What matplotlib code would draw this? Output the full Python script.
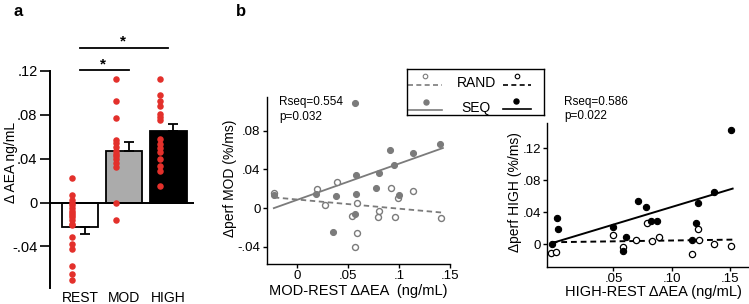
import numpy as np
import matplotlib
matplotlib.use('Agg')
import matplotlib.pyplot as plt

plt.rcParams['font.family'] = ['Liberation Sans', 'DejaVu Sans']

W, H = 749, 304

# ---------------- Panel a data ----------------
groups = ['REST', 'MOD', 'HIGH']
bar_means = [-0.022, 0.047, 0.065]
bar_sems = [0.0065, 0.0080, 0.0068]
bar_colors = ['white', '#ababab', 'black']
rest_vals = [0.022, 0.0073, 0.0025, -0.0003, -0.0027, -0.0052, -0.0073, -0.0097,
             -0.0118, -0.0135, -0.016, -0.0194, -0.0209, -0.0315, -0.0376, -0.042,
             -0.058, -0.065, -0.0703]
mod_vals = [0.113, 0.093, 0.077, 0.057, 0.054, 0.051, 0.047, 0.044, 0.042, 0.040,
            0.036, 0.032, 0.0, -0.016]
high_vals = [0.113, 0.098, 0.093, 0.088, 0.081, 0.078, 0.075, 0.058, 0.053, 0.050,
             0.046, 0.040, 0.033, 0.029, 0.0155]

# ---------------- Panel b (MOD) data ----------------
mod_seq_x = [-0.023, 0.018, 0.038, 0.058, 0.058, 0.035, 0.057, 0.080, 0.077, 0.091,
             0.095, 0.100, 0.114, 0.140, 0.057]
mod_seq_y = [0.0134, 0.014, 0.012, 0.034, 0.015, -0.0245, -0.006, 0.036, 0.021, 0.060,
             0.045, 0.013, 0.057, 0.0665, 0.109]
mod_rand_x = [-0.023, 0.019, 0.039, 0.027, 0.059, 0.054, 0.059, 0.057, 0.080, 0.079,
              0.092, 0.096, 0.099, 0.114, 0.141]
mod_rand_y = [0.016, 0.020, 0.027, 0.0035, 0.005, -0.008, -0.026, -0.040, -0.003, -0.009,
              0.021, -0.009, 0.010, 0.018, -0.010]
mod_seq_fit = [0.375, 0.0085]    # slope, intercept
mod_rand_fit = [-0.095, 0.0088]

# ---------------- Panel b (HIGH) data ----------------
high_seq_x = [-0.003, 0.002, 0.0023, 0.050, 0.0606, 0.0586, 0.0706, 0.078, 0.082, 0.0877,
              0.117, 0.122, 0.121, 0.136, 0.151]
high_seq_y = [0.0, 0.0325, 0.019, 0.0217, 0.0088, -0.008, 0.0546, 0.046, 0.029, 0.029,
              0.0054, 0.051, 0.027, 0.065, 0.143]
high_rand_x = [-0.0034, 0.0006, 0.050, 0.0586, 0.069, 0.079, 0.083, 0.0886, 0.117, 0.122,
               0.123, 0.136, 0.151]
high_rand_y = [-0.0104, -0.010, 0.0117, -0.0037, 0.0058, 0.027, 0.004, 0.009, -0.0117, 0.019,
               0.0054, 0.0008, -0.0017]
high_seq_fit = [0.44, 0.0026]
high_rand_fit = [0.021, 0.0026]

GRAY = '#7b7b7b'
RED = '#e3302b'

fig = plt.figure(figsize=(W / 100, H / 100), dpi=100)


def px_axes(l, t, r, b):
    return fig.add_axes([l / W, 1 - b / H, (r - l) / W, (b - t) / H])


def fx(x):
    return x / W


def fy(y):
    return 1 - y / H


# ================= Panel a =================
axa = px_axes(50, 71, 194, 288)
axa.set_xlim(-0.69, 2.58)
axa.set_ylim(-0.078, 0.12)
xpos = np.arange(len(groups))
axa.bar(xpos, bar_means, width=0.82, color=bar_colors, edgecolor='black', linewidth=1.3, zorder=2)
lower = [s if m < 0 else 0 for m, s in zip(bar_means, bar_sems)]
upper = [s if m > 0 else 0 for m, s in zip(bar_means, bar_sems)]
axa.errorbar(xpos + 0.1, bar_means, yerr=[lower, upper], fmt='none', ecolor='black',
             elinewidth=1.3, capsize=3.5, capthick=1.3, zorder=2)
for i, vals in enumerate([rest_vals, mod_vals, high_vals]):
    axa.scatter(np.full(len(vals), i - 0.2), vals, s=22, color=RED, zorder=4, linewidths=0)
axa.axhline(0, color='black', lw=1.4, zorder=3)
for s in ['top', 'right', 'bottom']:
    axa.spines[s].set_visible(False)
axa.spines['left'].set_linewidth(1.4)
axa.set_yticks([-0.04, 0, 0.04, 0.08, 0.12])
axa.set_yticklabels(['-.04', '0', '.04', '.08', '.12'], fontsize=10.5)
axa.tick_params(axis='y', length=7, width=1.2, pad=2)
axa.set_xticks(xpos)
axa.set_xticklabels(groups, fontsize=10)
axa.tick_params(axis='x', length=0, pad=2)
# significance
axa.plot([0, 2], [0.141, 0.141], color='black', lw=1.3, clip_on=False)
axa.plot([0, 1.1], [0.1205, 0.1205], color='black', lw=1.3, clip_on=False)
axa.text(0.97, 0.1405, '*', ha='center', va='bottom', fontsize=11, fontweight='bold')
axa.text(0.51, 0.1195, '*', ha='center', va='bottom', fontsize=11, fontweight='bold')
fig.text(fx(11), fy(162), 'Δ AEA ng/mL', rotation=90, ha='center', va='center', fontsize=10)
fig.text(fx(18), fy(11), 'a', ha='center', va='center', fontsize=12, fontweight='bold')
fig.text(fx(241), fy(11), 'b', ha='center', va='center', fontsize=12, fontweight='bold')


def style_scatter_axes(ax):
    for s in ['top', 'right']:
        ax.spines[s].set_visible(False)
    for s in ['left', 'bottom']:
        ax.spines[s].set_linewidth(1.0)
    ax.tick_params(length=3, width=1.0, pad=1.5, labelsize=9.5)


# ================= Panel b, MOD =================
axm = px_axes(266.7, 97, 450, 264)
axm.set_xlim(-0.030, 0.15)
axm.set_ylim(-0.058, 0.115)
style_scatter_axes(axm)
axm.set_xticks([0, 0.05, 0.1, 0.15])
axm.set_xticklabels(['0', '.05', '.1', '.15'])
axm.set_yticks([-0.04, 0, 0.04, 0.08])
axm.set_yticklabels(['-.04', '0', '.04', '.08'])
xs = np.array([min(mod_seq_x), max(mod_seq_x) + 0.003])
axm.plot(xs, mod_seq_fit[0] * xs + mod_seq_fit[1], color=GRAY, lw=1.3, zorder=2)
axm.plot(xs, mod_rand_fit[0] * xs + mod_rand_fit[1], color=GRAY, lw=1.3, ls=(0, (3, 2)), zorder=2)
axm.plot(mod_rand_x, mod_rand_y, 'o', ms=4.3, mfc='white', mec=GRAY, mew=1.0, zorder=3)
axm.plot(mod_seq_x, mod_seq_y, 'o', ms=4.3, mfc=GRAY, mec=GRAY, mew=0.8, zorder=4, clip_on=False)
fig.text(fx(279), fy(102), 'Rseq=0.554', ha='left', va='center', fontsize=8.5)
fig.text(fx(279), fy(117), 'p=0.032', ha='left', va='center', fontsize=8.5)
fig.text(fx(230), fy(178), 'Δperf MOD (%/ms)', rotation=90, ha='center', va='center', fontsize=10)
fig.text(fx(358), fy(291), 'MOD-REST ΔAEA  (ng/mL)', ha='center', va='center', fontsize=10.5)

# ================= Panel b, HIGH =================
axh = px_axes(547.3, 123.3, 749, 266.7)
axh.set_xlim(-0.0066, 0.166)
axh.set_ylim(-0.028, 0.151)
style_scatter_axes(axh)
axh.set_xticks([0.05, 0.10, 0.15])
axh.set_xticklabels(['.05', '.10', '.15'])
axh.set_yticks([0, 0.04, 0.08, 0.12])
axh.set_yticklabels(['0', '.04', '.08', '.12'])
xs = np.array([min(high_seq_x), max(high_seq_x) + 0.001])
axh.plot(xs, high_seq_fit[0] * xs + high_seq_fit[1], color='black', lw=1.4, zorder=2)
axh.plot(xs, high_rand_fit[0] * xs + high_rand_fit[1], color='black', lw=1.4, ls=(0, (3, 2)), zorder=2)
axh.plot(high_rand_x, high_rand_y, 'o', ms=4.5, mfc='white', mec='black', mew=0.9, zorder=3)
axh.plot(high_seq_x, high_seq_y, 'o', ms=4.5, mfc='black', mec='black', mew=0.8, zorder=4)
fig.text(fx(564), fy(102), 'Rseq=0.586', ha='left', va='center', fontsize=8.5)
fig.text(fx(564), fy(116), 'p=0.022', ha='left', va='center', fontsize=8.5)
fig.text(fx(515), fy(192), 'Δperf HIGH (%/ms)', rotation=90, ha='center', va='center', fontsize=10)
fig.text(fx(653), fy(292), 'HIGH-REST ΔAEA (ng/mL)', ha='center', va='center', fontsize=10.5)

# ================= Legend box =================
axl = px_axes(406.7, 69, 544, 115)
axl.set_xlim(406.7, 544)
axl.set_ylim(115, 69)
axl.set_xticks([])
axl.set_yticks([])
for s in axl.spines.values():
    s.set_linewidth(1.0)
axl.plot([408, 442], [85, 85], color=GRAY, lw=1.2, ls=(0, (3, 2)))
axl.plot([425], [76], 'o', ms=3.3, mfc='white', mec=GRAY, mew=0.8)
axl.plot([503, 531], [85, 85], color='black', lw=1.2, ls=(0, (3, 2)))
axl.plot([517], [76], 'o', ms=3.3, mfc='white', mec='black', mew=0.8)
axl.plot([408, 442], [110, 110], color=GRAY, lw=1.2)
axl.plot([426], [102], 'o', ms=3.6, mfc=GRAY, mec=GRAY)
axl.plot([503, 531], [109, 109], color='black', lw=1.2)
axl.plot([516], [101], 'o', ms=3.6, mfc='black', mec='black')
axl.text(477, 83, 'RAND', ha='center', va='center', fontsize=10)
axl.text(476, 108, 'SEQ', ha='center', va='center', fontsize=10)

fig.savefig('out.png', dpi=100)
